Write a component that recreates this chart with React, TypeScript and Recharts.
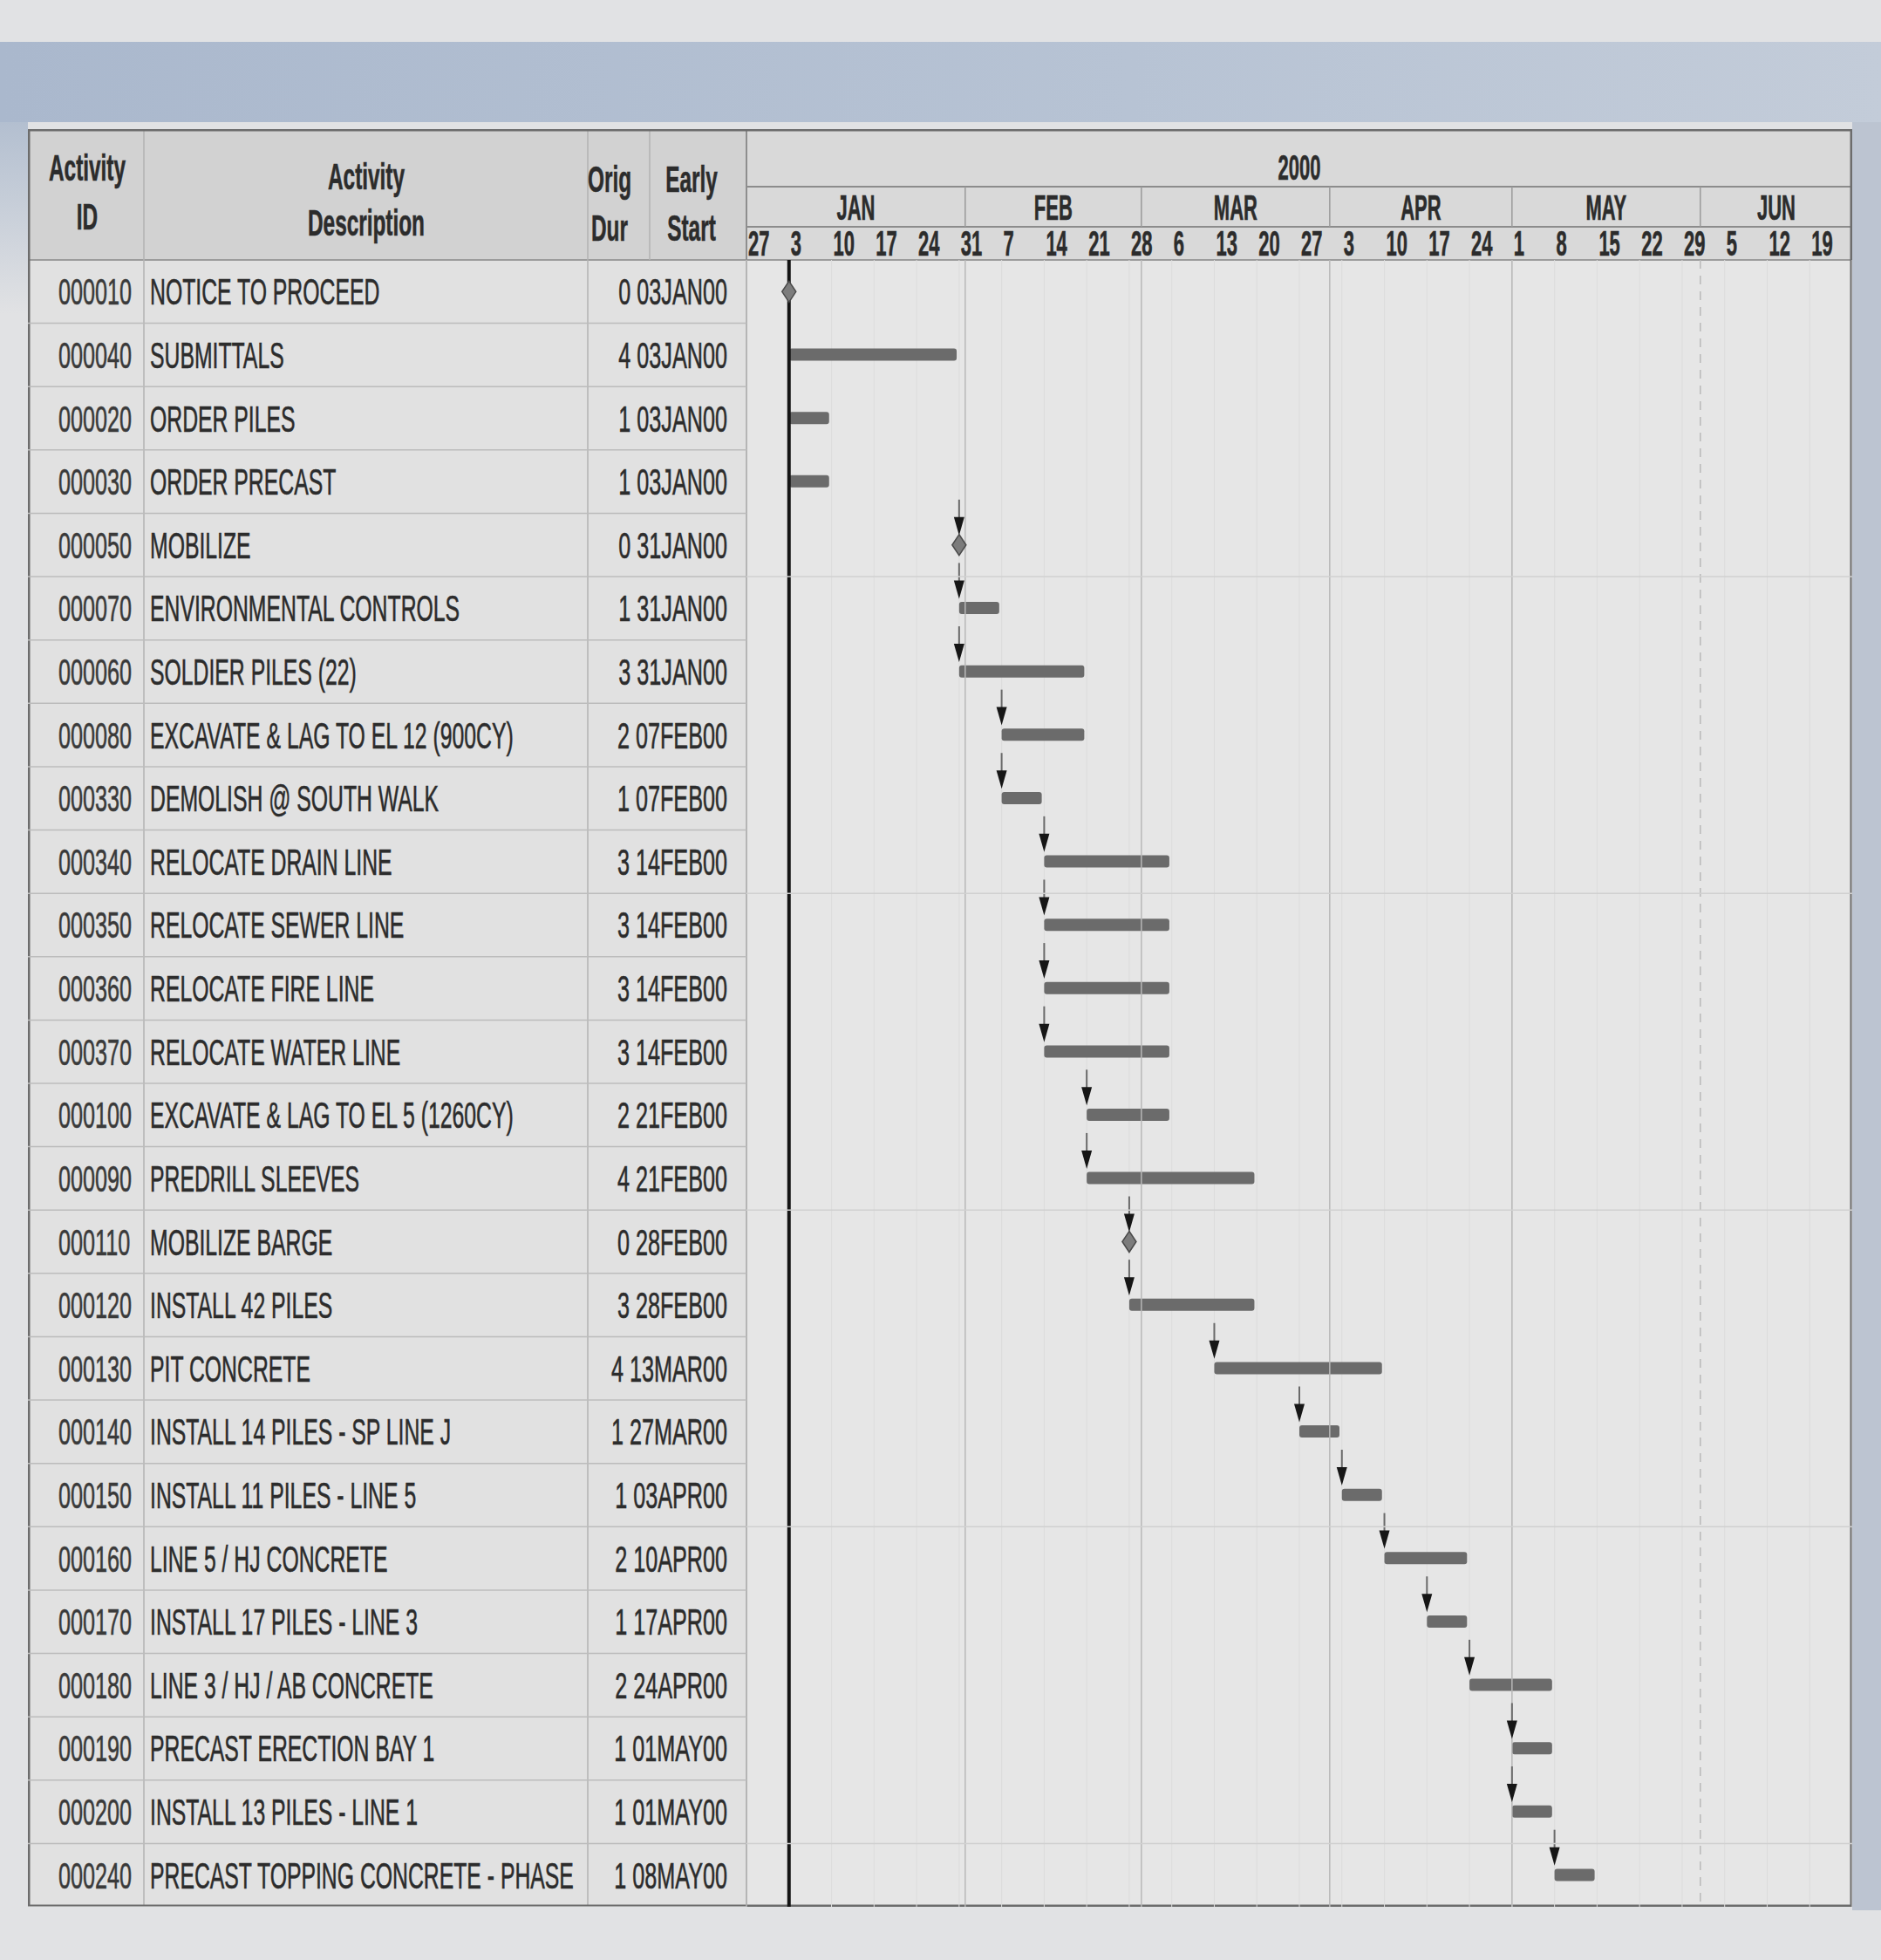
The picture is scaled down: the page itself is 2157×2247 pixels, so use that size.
import React from "react";
import {
  CartesianGrid,
  ComposedChart,
  Bar,
  ReferenceLine,
  Scatter,
  XAxis,
  YAxis,
} from "recharts";

// activity table, one entry per row (top to bottom)
const activityIds = [
  "000010", "000040", "000020", "000030", "000050", "000070", "000060", "000080", "000330",
  "000340", "000350", "000360", "000370", "000100", "000090", "000110", "000120", "000130",
  "000140", "000150", "000160", "000170", "000180", "000190", "000200", "000240",
];

const descriptions = [
  "NOTICE TO PROCEED",
  "SUBMITTALS",
  "ORDER PILES",
  "ORDER PRECAST",
  "MOBILIZE",
  "ENVIRONMENTAL CONTROLS",
  "SOLDIER PILES (22)",
  "EXCAVATE & LAG TO EL 12 (900CY)",
  "DEMOLISH @ SOUTH WALK",
  "RELOCATE DRAIN LINE",
  "RELOCATE SEWER LINE",
  "RELOCATE FIRE LINE",
  "RELOCATE WATER LINE",
  "EXCAVATE & LAG TO EL 5 (1260CY)",
  "PREDRILL SLEEVES",
  "MOBILIZE BARGE",
  "INSTALL 42 PILES",
  "PIT CONCRETE",
  "INSTALL 14 PILES - SP LINE J",
  "INSTALL 11 PILES - LINE 5",
  "LINE 5 / HJ CONCRETE",
  "INSTALL 17 PILES - LINE 3",
  "LINE 3 / HJ / AB CONCRETE",
  "PRECAST ERECTION BAY 1",
  "INSTALL 13 PILES - LINE 1",
  "PRECAST TOPPING CONCRETE - PHASE",
];

// original duration in weeks
const origDur = [0, 4, 1, 1, 0, 1, 3, 2, 1, 3, 3, 3, 3, 2, 4, 0, 3, 4, 1, 1, 2, 1, 2, 1, 1, 1];

const earlyStart = [
  "03JAN00", "03JAN00", "03JAN00", "03JAN00", "31JAN00", "31JAN00", "31JAN00", "07FEB00", "07FEB00",
  "14FEB00", "14FEB00", "14FEB00", "14FEB00", "21FEB00", "21FEB00", "28FEB00", "28FEB00", "13MAR00",
  "27MAR00", "03APR00", "10APR00", "17APR00", "24APR00", "01MAY00", "01MAY00", "08MAY00",
];

// early start as days after 27DEC99 (first column of the timescale)
const startDay = [7, 7, 7, 7, 35, 35, 35, 42, 42, 49, 49, 49, 49, 56, 56, 63, 63, 77, 91, 98, 105, 112, 119, 126, 126, 133];

// activities that get a relationship arrow at their start
const arrowIds = [
  "000050", "000070", "000060", "000080", "000330", "000340", "000350", "000360", "000370",
  "000100", "000090", "000110", "000120", "000130", "000140", "000150", "000160", "000170",
  "000180", "000190", "000200", "000240",
];

// timescale
const weekTicks = [0, 7, 14, 21, 28, 35, 42, 49, 56, 63, 70, 77, 84, 91, 98, 105, 112, 119, 126, 133, 140, 147, 154, 161, 168, 175];
const dayLabels = ["27", "3", "10", "17", "24", "31", "7", "14", "21", "28", "6", "13", "20", "27", "3", "10", "17", "24", "1", "8", "15", "22", "29", "5", "12", "19"];
const monthStarts = [0, 36, 65, 96, 126, 157];
const monthLabels = ["JAN", "FEB", "MAR", "APR", "MAY", "JUN"];
const yearLabel = "2000";
const DAY_SPAN = 182;
const DATA_DATE = 7;

const CHART_W = 2092;
const CHART_H = 2038;
const TABLE_W = 824;
const YEAR_H = 66;
const MONTH_H = 46;
const DAY_H = 38;
const HEADER_H = YEAR_H + MONTH_H + DAY_H;
const ROW_H = (CHART_H - HEADER_H) / activityIds.length;
const PX_PER_DAY = (CHART_W - TABLE_W) / DAY_SPAN;

const FONT = "'Liberation Sans', Arial, sans-serif";
const INK = "#2c2c2c";

const rows = activityIds.map((id, i) => ({
  id,
  desc: descriptions[i],
  dur: origDur[i],
  start: earlyStart[i],
  span: origDur[i] > 0 ? [startDay[i], startDay[i] + origDur[i] * 7 - 0.4] : null,
  msDay: origDur[i] === 0 ? startDay[i] : null,
  linkDay: arrowIds.includes(id) ? startDay[i] : null,
}));

function NText({ x, y, anchor = "start", size = 42, weight = 400, sx = 0.6, fill = INK, children }: any) {
  return (
    <text
      transform={`translate(${x} ${y}) scale(${sx} 1)`}
      textAnchor={anchor}
      fontSize={size}
      fontWeight={weight}
      fontFamily={FONT}
      fill={fill}
      stroke={fill}
      strokeWidth={0.6}
      style={{ whiteSpace: "pre" }}
    >
      {children}
    </text>
  );
}

function RowTick(props: any) {
  const { y, index } = props;
  const r = rows[index];
  if (!r) return <g />;
  const base = y + 15;
  const bottom = y + ROW_H / 2;
  return (
    <g>
      <line x1={0} x2={TABLE_W} y1={bottom} y2={bottom} stroke="#bcbcbc" strokeWidth={1.5} />
      {(index + 1) % 5 === 0 && (
        <line x1={TABLE_W} x2={CHART_W} y1={bottom} y2={bottom} stroke="#d0d0d0" strokeWidth={1.5} />
      )}
      <NText x={35} y={base} fill="#3a3a3a">{r.id}</NText>
      <NText x={140} y={base} sx={0.59}>{r.desc}</NText>
      <NText x={802} y={base} anchor="end">{`${r.dur} ${r.start}`}</NText>
    </g>
  );
}

function DayTick(props: any) {
  const { x, index } = props;
  return (
    <NText x={x + 2} y={YEAR_H + MONTH_H + 33} size={40} weight={700} sx={0.55}>
      {dayLabels[index]}
    </NText>
  );
}

function MonthTick(props: any) {
  const { x, index } = props;
  const next = index + 1 < monthStarts.length ? monthStarts[index + 1] : DAY_SPAN;
  const mid = x + ((next - monthStarts[index]) * PX_PER_DAY) / 2;
  return (
    <g>
      {index > 0 && <line x1={x} x2={x} y1={YEAR_H} y2={YEAR_H + MONTH_H} stroke="#9a9a9a" strokeWidth={1.5} />}
      <NText x={mid} y={YEAR_H + 38} anchor="middle" size={40} weight={700} sx={0.55}>
        {monthLabels[index]}
      </NText>
    </g>
  );
}

function YearTick(props: any) {
  const { x } = props;
  return (
    <NText x={x} y={58} anchor="middle" size={40} weight={700} sx={0.55}>
      {yearLabel}
    </NText>
  );
}

function MilestoneShape(props: any) {
  const { cx, cy, payload } = props;
  if (!payload || payload.msDay == null) return <g />;
  return (
    <path
      d={`M${cx} ${cy - 12} L${cx + 8} ${cy} L${cx} ${cy + 12} L${cx - 8} ${cy} Z`}
      fill="#7c7c7c"
      stroke="#4a4a4a"
      strokeWidth={1.5}
    />
  );
}

function ArrowShape(props: any) {
  const { cx, cy, payload } = props;
  if (!payload || payload.linkDay == null) return <g />;
  return (
    <g>
      <line x1={cx} x2={cx} y1={cy - 52} y2={cy - 30} stroke="#6a6a6a" strokeWidth={2} />
      <path d={`M${cx - 6} ${cy - 32} L${cx + 6} ${cy - 32} L${cx} ${cy - 11} Z`} fill="#161616" />
    </g>
  );
}

function TableFrame() {
  const colHead = (x: number, a: string, b: string, y1: number, y2: number) => (
    <g>
      <NText x={x} y={y1} anchor="middle" weight={700} sx={0.58}>{a}</NText>
      <NText x={x} y={y2} anchor="middle" weight={700} sx={0.58}>{b}</NText>
    </g>
  );
  return (
    <svg width={CHART_W} height={CHART_H} style={{ position: "absolute", left: 0, top: 0 }}>
      <rect x={0} y={0} width={TABLE_W} height={HEADER_H} fill="#d2d2d2" />
      <rect x={TABLE_W} y={0} width={CHART_W - TABLE_W} height={HEADER_H} fill="#d9d9d9" />
      <rect x={0} y={HEADER_H} width={TABLE_W} height={CHART_H - HEADER_H} fill="#e1e1e1" />
      <rect x={TABLE_W} y={HEADER_H} width={CHART_W - TABLE_W} height={CHART_H - HEADER_H} fill="#e6e6e6" />
      <line x1={TABLE_W} x2={CHART_W} y1={YEAR_H} y2={YEAR_H} stroke="#8c8c8c" strokeWidth={2} />
      <line x1={TABLE_W} x2={CHART_W} y1={YEAR_H + MONTH_H} y2={YEAR_H + MONTH_H} stroke="#8c8c8c" strokeWidth={2} />
      <line x1={0} x2={CHART_W} y1={HEADER_H} y2={HEADER_H} stroke="#9c9c9c" strokeWidth={2} />
      <line x1={133} x2={133} y1={0} y2={CHART_H} stroke="#b2b2b2" strokeWidth={1.5} />
      <line x1={642} x2={642} y1={0} y2={CHART_H} stroke="#b2b2b2" strokeWidth={1.5} />
      <line x1={713} x2={713} y1={0} y2={HEADER_H} stroke="#b2b2b2" strokeWidth={1.5} />
      <line x1={TABLE_W} x2={TABLE_W} y1={0} y2={CHART_H} stroke="#8e8e8e" strokeWidth={2} />
      {colHead(68, "Activity", "ID", 59, 115)}
      {colHead(388, "Activity", "Description", 69, 122)}
      {colHead(667, "Orig", "Dur", 72, 128)}
      {colHead(761, "Early", "Start", 72, 128)}
      <rect x={1} y={1} width={CHART_W - 2} height={CHART_H - 2} fill="none" stroke="#6c6c6c" strokeWidth={3} />
    </svg>
  );
}

export default function App() {
  return (
    <div
      style={{
        position: "absolute",
        left: 0,
        top: 0,
        width: 2157,
        height: 2247,
        overflow: "hidden",
        background: "#e1e2e4",
      }}
    >
      <div
        style={{
          position: "absolute",
          left: 0,
          top: 48,
          width: 2157,
          height: 92,
          background: "linear-gradient(90deg, #aab8cd 0%, #b7c3d4 60%, #c3ccd9 100%)",
        }}
      />
      <div style={{ position: "absolute", left: 2124, top: 140, width: 33, height: 2050, background: "#bcc4d1" }} />
      <div style={{ position: "absolute", left: 0, top: 140, width: 32, height: 220, background: "linear-gradient(180deg, #b3bfd0, #e1e2e4)" }} />
      <div style={{ position: "absolute", left: 32, top: 148, width: CHART_W, height: CHART_H }}>
        <TableFrame />
        <div style={{ position: "absolute", left: 0, top: 0 }}>
          <ComposedChart
            width={CHART_W}
            height={CHART_H}
            data={rows}
            layout="vertical"
            margin={{ top: 0, right: 0, bottom: 0, left: 0 }}
          >
            <CartesianGrid xAxisId="day" horizontal={false} stroke="#dcdcdc" strokeWidth={1} />
            <XAxis
              xAxisId="day"
              type="number"
              orientation="top"
              domain={[0, DAY_SPAN]}
              ticks={weekTicks}
              interval={0}
              height={DAY_H}
              axisLine={false}
              tickLine={false}
              allowDataOverflow
              tick={(p: any) => <DayTick {...p} />}
            />
            <XAxis
              xAxisId="month"
              type="number"
              orientation="top"
              domain={[0, DAY_SPAN]}
              ticks={monthStarts}
              interval={0}
              height={MONTH_H}
              axisLine={false}
              tickLine={false}
              allowDataOverflow
              tick={(p: any) => <MonthTick {...p} />}
            />
            <XAxis
              xAxisId="year"
              type="number"
              orientation="top"
              domain={[0, DAY_SPAN]}
              ticks={[DAY_SPAN / 2]}
              interval={0}
              height={YEAR_H}
              axisLine={false}
              tickLine={false}
              allowDataOverflow
              tick={(p: any) => <YearTick {...p} />}
            />
            <YAxis
              type="category"
              dataKey="id"
              width={TABLE_W}
              interval={0}
              axisLine={false}
              tickLine={false}
              tick={(p: any) => <RowTick {...p} />}
            />
            {monthStarts.slice(1).map((m, i) => (
              <ReferenceLine
                key={m}
                xAxisId="day"
                x={m}
                stroke="#b8b8b8"
                strokeWidth={1.5}
                strokeDasharray={i === monthStarts.length - 2 ? "10 8" : undefined}
              />
            ))}
            <ReferenceLine xAxisId="day" x={DATA_DATE} stroke="#151515" strokeWidth={4} />
            <Bar
              xAxisId="day"
              dataKey="span"
              fill="#6b6b6b"
              barSize={14}
              radius={3}
              isAnimationActive={false}
            />
            <Scatter
              xAxisId="day"
              dataKey="linkDay"
              shape={(p: any) => <ArrowShape {...p} />}
              isAnimationActive={false}
            />
            <Scatter
              xAxisId="day"
              dataKey="msDay"
              shape={(p: any) => <MilestoneShape {...p} />}
              isAnimationActive={false}
            />
          </ComposedChart>
        </div>
      </div>
    </div>
  );
}
